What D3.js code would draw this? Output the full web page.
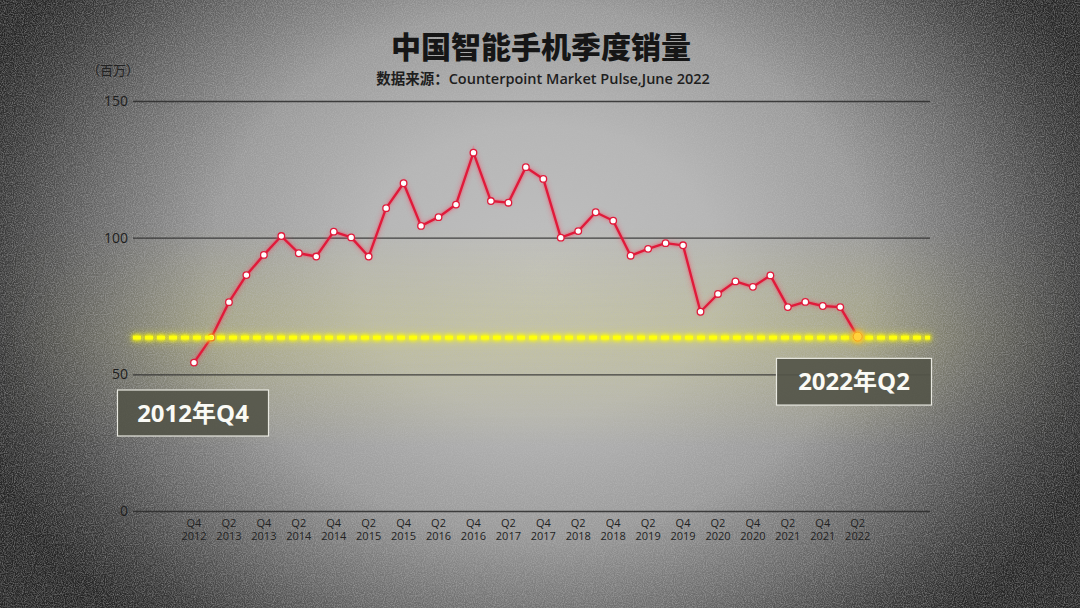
<!DOCTYPE html>
<html><head><meta charset="utf-8">
<script src="https://cdn.jsdelivr.net/npm/d3@7"></script>
<style>
html,body{margin:0;padding:0;background:#333;}
svg{display:block;}
</style></head>
<body>
<svg id="chart" width="1080" height="608"></svg>
<script>
// ---- data ----
const quarters = ["Q4 2012","Q1 2013","Q2 2013","Q3 2013","Q4 2013","Q1 2014","Q2 2014","Q3 2014","Q4 2014",
  "Q1 2015","Q2 2015","Q3 2015","Q4 2015","Q1 2016","Q2 2016","Q3 2016","Q4 2016","Q1 2017","Q2 2017","Q3 2017",
  "Q4 2017","Q1 2018","Q2 2018","Q3 2018","Q4 2018","Q1 2019","Q2 2019","Q3 2019","Q4 2019","Q1 2020","Q2 2020",
  "Q3 2020","Q4 2020","Q1 2021","Q2 2021","Q3 2021","Q4 2021","Q1 2022","Q2 2022"];
const sales = [54.3,63.5,76.4,86.3,93.7,100.6,94.3,93.1,102.2,100.1,93.1,110.8,119.9,104.3,107.5,112.1,131.1,113.4,
  112.8,125.8,121.5,100.0,102.4,109.3,106.2,93.4,95.9,98.0,97.2,72.9,79.4,84.0,82.0,86.2,74.6,76.5,75.0,74.6,63.8];
const yTicks = [0,50,100,150];
const title = "中国智能手机季度销量";
const subtitle = "数据来源：Counterpoint Market Pulse,June 2022";
const unitLabel = "（百万）";
const startLabel = "2012年Q4";
const endLabel = "2022年Q2";

const W = 1080, H = 608;
const svg = d3.select("#chart");
const defs = svg.append("defs");

// background radial gradient (vignette)
const rg = defs.append("radialGradient").attr("id","bg").attr("gradientUnits","userSpaceOnUse")
  .attr("cx",540).attr("cy",270).attr("r",600)
  .attr("gradientTransform","translate(540,270) scale(1,0.8) translate(-540,-270)");
[[0,"#c0c0c0"],[0.3,"#b6b6b6"],[0.55,"#9a9a9a"],[0.75,"#666"],[0.9,"#3a3a3a"],[1,"#252525"]].forEach(([o,c])=>
  rg.append("stop").attr("offset",o).attr("stop-color",c));

// yellow glow band
const yb = defs.append("linearGradient").attr("id","yband").attr("x1",0).attr("y1",0).attr("x2",0).attr("y2",1);
[[0,0],[0.3,0.12],[0.5,0.2],[0.7,0.12],[1,0]].forEach(([o,a])=>
  yb.append("stop").attr("offset",o).attr("stop-color","#e8e23a").attr("stop-opacity",a));
const ybx = defs.append("linearGradient").attr("id","ybandmask").attr("x1",0).attr("y1",0).attr("x2",1).attr("y2",0);
[[0,0],[0.1,0.3],[0.2,1],[0.8,1],[0.9,0.3],[1,0]].forEach(([o,a])=>
  ybx.append("stop").attr("offset",o).attr("stop-color","#fff").attr("stop-opacity",a));
defs.append("mask").attr("id","bandMask").attr("maskUnits","userSpaceOnUse").attr("x",0).attr("y",0).attr("width",W).attr("height",H)
  .append("rect").attr("x",0).attr("y",0).attr("width",W).attr("height",H).attr("fill","url(#ybandmask)");

// noise
const nf = defs.append("filter").attr("id","noise").attr("filterUnits","userSpaceOnUse").attr("x",0).attr("y",0).attr("width",W).attr("height",H);
nf.append("feTurbulence").attr("type","fractalNoise").attr("baseFrequency",0.9).attr("numOctaves",2).attr("seed",3);
nf.append("feColorMatrix").attr("type","matrix").attr("values","0 0 0 0 0.5  0 0 0 0 0.5  0 0 0 0 0.5  1.6 0 0 0 -0.55");

// glows
const gf = defs.append("filter").attr("id","redglow").attr("filterUnits","userSpaceOnUse").attr("x",0).attr("y",0).attr("width",W).attr("height",H);
gf.append("feGaussianBlur").attr("in","SourceGraphic").attr("stdDeviation",2.5).attr("result","b");
const gm = gf.append("feMerge"); gm.append("feMergeNode").attr("in","b"); gm.append("feMergeNode").attr("in","SourceGraphic");
const yf = defs.append("filter").attr("id","yglow").attr("filterUnits","userSpaceOnUse").attr("x",0).attr("y",0).attr("width",W).attr("height",H);
yf.append("feGaussianBlur").attr("in","SourceGraphic").attr("stdDeviation",2).attr("result","b1");
yf.append("feGaussianBlur").attr("in","SourceGraphic").attr("stdDeviation",5).attr("result","b2");
const ym = yf.append("feMerge"); ym.append("feMergeNode").attr("in","b2"); ym.append("feMergeNode").attr("in","b1"); ym.append("feMergeNode").attr("in","b1"); ym.append("feMergeNode").attr("in","SourceGraphic");

svg.append("rect").attr("width",W).attr("height",H).attr("fill","url(#bg)");

// scales
const x = d3.scaleLinear().domain([0, quarters.length-1]).range([194, 857.7]);
const y = d3.scaleLinear().domain([0,150]).range([511,101]);
const gridX0 = 133, gridX1 = 930;

const hl = sales[sales.length-1];
// yellow band
svg.append("rect").attr("x",0).attr("y",y(hl)-110).attr("width",W).attr("height",220)
  .attr("fill","url(#yband)").attr("mask","url(#bandMask)");

svg.append("rect").attr("width",W).attr("height",H).attr("filter","url(#noise)").attr("opacity",0.6);

// gridlines & y labels
const yAxis = d3.axisLeft(y).tickValues(yTicks).tickSize(-(gridX1-gridX0)).tickPadding(4);
const yg = svg.append("g").attr("transform",`translate(${gridX0},0)`).call(yAxis);
yg.select(".domain").remove();
yg.selectAll(".tick line").attr("stroke","#2a2a2a").attr("stroke-width",1.3).attr("opacity",0.85);
yg.selectAll(".tick text").attr("fill","#1e1e1e").attr("font-family","'Open Sans','Noto Sans',sans-serif")
  .attr("font-size",14).attr("dx",-1);

// x tick labels
const xTickIdx = d3.range(0, quarters.length, 2);
const xl = svg.append("g").attr("font-family","'Open Sans','Noto Sans',sans-serif").attr("font-size",11).attr("fill","#222").attr("text-anchor","middle");
xTickIdx.forEach(i=>{
  const [q,yr] = quarters[i].split(" ");
  const t = xl.append("text").attr("x",x(i)).attr("y",527);
  t.append("tspan").attr("x",x(i)).attr("dy",0).text(q);
  t.append("tspan").attr("x",x(i)).attr("dy",13).text(yr);
});

// titles
svg.append("text").attr("x",541).attr("y",58).attr("text-anchor","middle")
  .attr("font-family","'Noto Sans CJK SC',sans-serif").attr("font-weight",900).attr("font-size",30).attr("fill","#161616").text(title);
svg.append("text").attr("x",543).attr("y",84).attr("text-anchor","middle")
  .attr("font-family","'Open Sans','Noto Sans CJK SC',sans-serif").attr("font-weight",600).attr("font-size",14.5).attr("fill","#1e1e1e").text(subtitle);
svg.append("text").attr("x",113).attr("y",75).attr("text-anchor","middle")
  .attr("font-family","'Noto Sans CJK SC',sans-serif").attr("font-size",13).attr("fill","#222").text(unitLabel);

// series line
const line = d3.line().x((d,i)=>x(i)).y(d=>y(d));
svg.append("path").datum(sales).attr("d",line).attr("fill","none").attr("stroke","#ff3a5a").attr("stroke-width",5)
  .attr("opacity",0.3).attr("filter","url(#redglow)");
svg.append("path").datum(sales).attr("d",line).attr("fill","none").attr("stroke","#e01a3a").attr("stroke-width",2.4)
  .attr("stroke-linejoin","round");
svg.append("g").selectAll("circle").data(sales.slice(0,-1)).join("circle")
  .attr("cx",(d,i)=>x(i)).attr("cy",d=>y(d)).attr("r",3.3)
  .attr("fill","#fff").attr("stroke","#e01a3a").attr("stroke-width",1.3);

// highlight dashed line
svg.append("line").attr("x1",gridX0).attr("x2",gridX1).attr("y1",y(hl)+1).attr("y2",y(hl)+1)
  .attr("stroke","#ffff10").attr("stroke-width",3.6).attr("stroke-dasharray","8,4").attr("filter","url(#yglow)");
svg.append("circle").attr("cx",x(sales.length-1)).attr("cy",y(hl)).attr("r",4.5)
  .attr("fill","#ffd23a").attr("stroke","#f0a020").attr("stroke-width",1).attr("filter","url(#yglow)");

// label boxes
function box(cx, cy, w, h, txt){
  svg.append("rect").attr("x",cx-w/2).attr("y",cy-h/2).attr("width",w).attr("height",h)
    .attr("fill","#545549").attr("fill-opacity",0.92).attr("stroke","#e8e8e0").attr("stroke-width",1.2);
  svg.append("text").attr("x",cx).attr("y",cy+8.5).attr("text-anchor","middle")
    .attr("font-family","'Open Sans','Noto Sans CJK SC',sans-serif").attr("font-weight",700).attr("font-size",24)
    .attr("fill","#fafaf5").text(txt);
}
box(193, 413, 151, 46, startLabel);
box(854, 381.7, 155, 46.7, endLabel);
</script>
</body></html>
